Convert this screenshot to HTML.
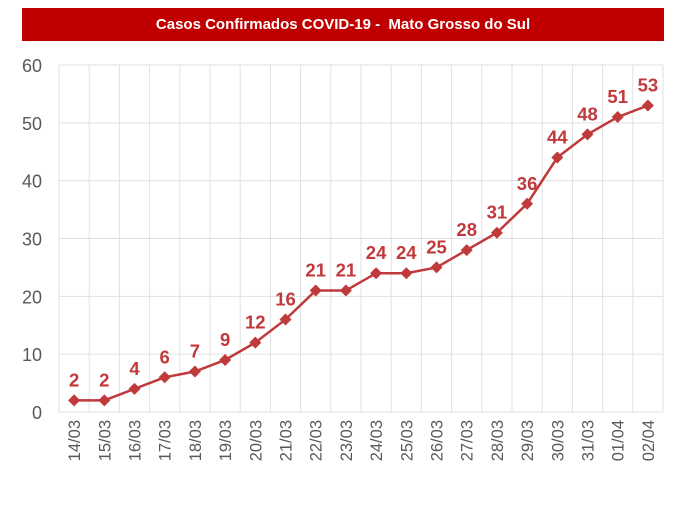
<!DOCTYPE html>
<html><head><style>
body{margin:0;background:#fff;width:696px;height:505px;overflow:hidden;font-family:"Liberation Sans",sans-serif}
#title{position:absolute;left:22px;top:8px;width:642px;height:33px;background:#c00000;color:#fff;font-weight:bold;font-size:15px;line-height:33px;text-align:center}
svg{position:absolute;left:0;top:0}
</style></head><body>
<div id="title">Casos Confirmados COVID-19 -&nbsp; Mato Grosso do Sul</div>
<svg id="c" width="696" height="505"></svg>
<script>
const categories=["14/03","15/03","16/03","17/03","18/03","19/03","20/03","21/03","22/03","23/03","24/03","25/03","26/03","27/03","28/03","29/03","30/03","31/03","01/04","02/04"];
const values=[2,2,4,6,7,9,12,16,21,21,24,24,25,28,31,36,44,48,51,53];
const yTicks=[0,10,20,30,40,50,60];
const L=59,R=663,T=65,B=412,yMax=60;
const bw=(R-L)/categories.length;
const x=i=>L+bw*(i+0.5);
const y=v=>B-(v/yMax)*(B-T);
const svg=document.getElementById('c');
const NS='http://www.w3.org/2000/svg';
function mk(t,a){const e=document.createElementNS(NS,t);for(const k in a)e.setAttribute(k,a[k]);svg.appendChild(e);return e;}
yTicks.forEach(v=>{
 const g=mk('line',{x1:L,x2:R,y1:y(v),y2:y(v),stroke:'#e0e0e0','stroke-width':1});
 
 
 const t=mk('text',{x:42,y:y(v)+7,'text-anchor':'end','font-size':18,fill:'#595959'});
 t.textContent=v;
 
 
});
for(let i=0;i<=categories.length;i++){
 const g=mk('line',{x1:L+bw*i,x2:L+bw*i,y1:T,y2:B,stroke:'#e0e0e0','stroke-width':1});
 
 
}
categories.forEach((c,i)=>{
 const t=mk('text',{transform:`translate(${x(i)+6},420) rotate(-90)`,'text-anchor':'end','font-size':16.5,fill:'#595959'});
 t.textContent=c;
 
 
});
const line=mk('polyline',{points:values.map((v,i)=>x(i)+','+y(v)).join(' '),fill:'none',stroke:'#c0393b','stroke-width':2.5});


values.forEach((v,i)=>{
 const cx=x(i),cy=y(v);
 const m=mk('polygon',{points:`${cx},${cy-6} ${cx+6},${cy} ${cx},${cy+6} ${cx-6},${cy}`,fill:'#c0393b'});
 
 
 const t=mk('text',{x:cx,y:cy-14,'text-anchor':'middle','font-size':18.5,'font-weight':'bold',fill:'#c0393b'});
 t.textContent=v;
 
 
});
</script>
</body></html>
